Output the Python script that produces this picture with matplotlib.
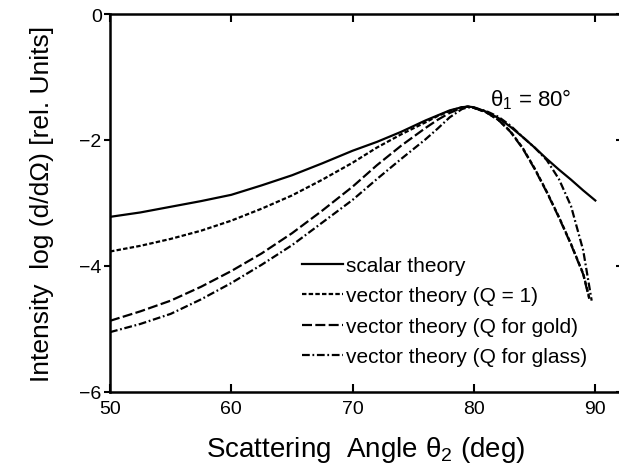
import matplotlib
matplotlib.use("Agg")
import matplotlib.pyplot as plt
from matplotlib import font_manager

# Pick a narrow sans face if available
names = {f.name for f in font_manager.fontManager.ttflist}
family = [n for n in ["Liberation Sans Narrow", "Liberation Sans", "DejaVu Sans"] if n in names]
plt.rcParams["font.family"] = family
plt.rcParams["mathtext.fontset"] = "custom"
plt.rcParams["mathtext.rm"] = family[0]
plt.rcParams["mathtext.it"] = family[0]

# Scattering angle theta_2 (deg) and log intensity for each model
x_main = [50, 52.5, 55, 57.5, 60, 62.5, 65, 67.5, 70, 72, 74, 76, 77, 78, 79, 79.5,
          80, 81, 82, 83, 84, 85, 86, 87, 88, 89]

scalar_x = x_main + [90]
scalar_y = [-3.22, -3.15, -3.06, -2.97, -2.87, -2.72, -2.56, -2.37, -2.17, -2.03, -1.87,
            -1.69, -1.61, -1.53, -1.48, -1.47, -1.48, -1.55, -1.65, -1.79, -1.95, -2.12,
            -2.30, -2.47, -2.63, -2.80, -2.96]

q1_x = x_main + [89.5]
q1_y = [-3.77, -3.68, -3.57, -3.44, -3.28, -3.09, -2.88, -2.63, -2.36, -2.12, -1.91,
        -1.72, -1.62, -1.54, -1.48, -1.47, -1.49, -1.56, -1.68, -1.86, -2.12, -2.45,
        -2.82, -3.22, -3.65, -4.12, -4.50]

gold_x = x_main + [89.5]
gold_y = [-4.87, -4.72, -4.55, -4.33, -4.08, -3.80, -3.48, -3.12, -2.74, -2.40, -2.09,
          -1.81, -1.68, -1.57, -1.49, -1.47, -1.49, -1.56, -1.68, -1.87, -2.13, -2.46,
          -2.83, -3.23, -3.66, -4.13, -4.52]

glass_x = x_main + [89.7]
glass_y = [-5.05, -4.92, -4.76, -4.53, -4.27, -3.98, -3.67, -3.31, -2.95, -2.62, -2.30,
           -1.99, -1.82, -1.64, -1.51, -1.48, -1.49, -1.54, -1.63, -1.77, -1.95, -2.12,
           -2.32, -2.62, -3.05, -3.75, -4.55]

labels = ["scalar theory", "vector theory (Q = 1)", "vector theory (Q for gold)",
          "vector theory (Q for glass)"]
x_ticks = [50, 60, 70, 80, 90]
y_ticks = [0, -2, -4, -6]

fig = plt.figure(figsize=(6.19, 4.77), dpi=100)
ax = fig.add_axes([110 / 619, 84 / 477, 512 / 619, 378 / 477])

lw = 1.6
ax.plot(scalar_x, scalar_y, color="black", lw=lw, linestyle="-", label=labels[0])
ax.plot(q1_x, q1_y, color="black", lw=lw, linestyle=(0, (2, 1)), label=labels[1])
ax.plot(gold_x, gold_y, color="black", lw=lw, linestyle=(0, (4.5, 1.5)), label=labels[2])
ax.plot(glass_x, glass_y, color="black", lw=lw, linestyle=(0, (3.5, 1.2, 0.8, 1.2)),
        label=labels[3])

ax.set_xlim(50, 92.2)
ax.set_ylim(-6, 0)
ax.set_xticks(x_ticks)
ax.set_yticks(y_ticks)
ax.set_yticklabels(["0", "\u22122", "\u22124", "\u22126"])

for s in ax.spines.values():
    s.set_linewidth(1.8)

ax.tick_params(axis="x", direction="in", top=True, length=6, width=1.5, labelsize=14, pad=6)
ax.tick_params(axis="y", direction="out", length=4, width=1.5, labelsize=14, pad=2)
ax.tick_params(axis="y", which="major", right=True)
for t in ax.yaxis.get_ticklines()[1::2]:
    t.set_marker(0)

ax.set_xlabel("Scattering  Angle \u03b8$_2$ (deg)", fontsize=20, labelpad=12)
ax.set_ylabel("Intensity  log (d/d\u03a9) [rel. Units]", fontsize=19, labelpad=18)

ax.text(81.3, -1.34, "\u03b8$_1$ = 80\u00b0", fontsize=16, va="center", ha="left")

ax.legend(loc="upper left", bbox_to_anchor=(65.85, -3.84), bbox_transform=ax.transData,
          frameon=False, fontsize=15, handlelength=1.95, handletextpad=0.15,
          labelspacing=0.55, borderpad=0, borderaxespad=0)

fig.savefig("out.png", dpi=100)
